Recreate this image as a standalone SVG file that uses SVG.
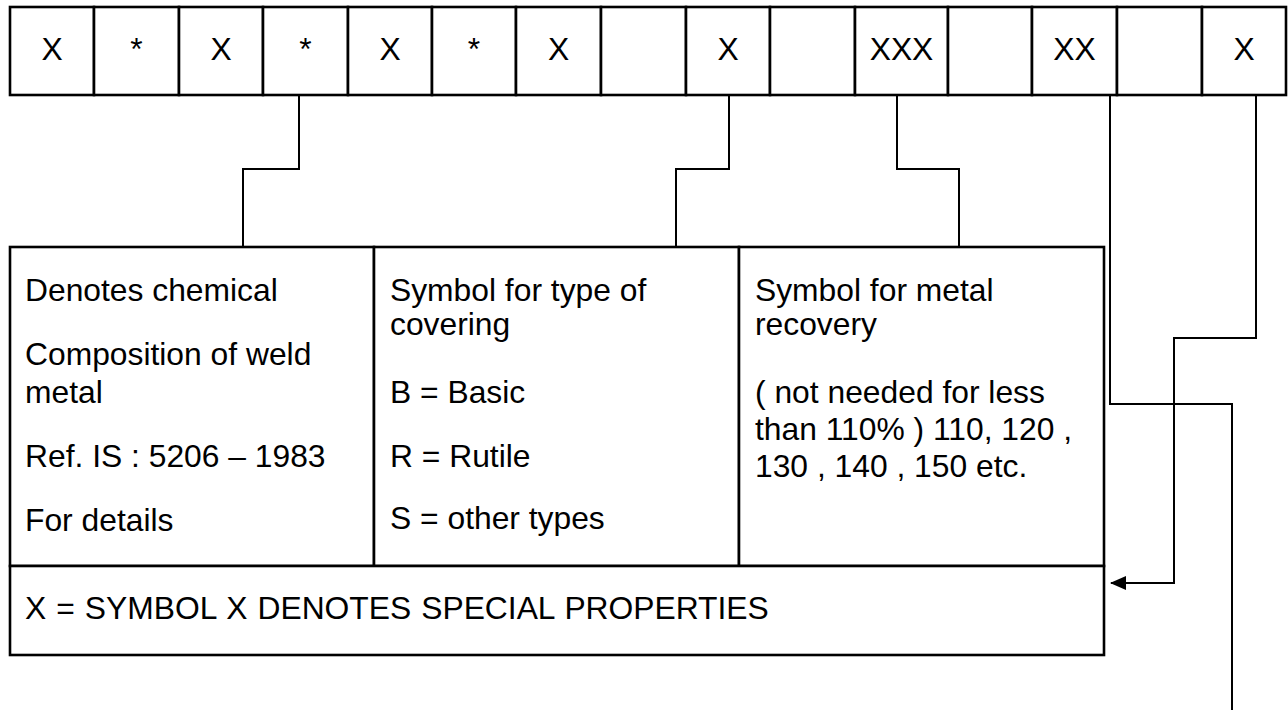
<svg xmlns="http://www.w3.org/2000/svg" width="1288" height="710" viewBox="0 0 1288 710">
<style>
  .cell { fill: #ffffff; stroke: #000000; stroke-width: 2.6; }
  .box { fill: #ffffff; stroke: #000000; stroke-width: 2.6; }
  .sym { font-family: "Liberation Sans", Arial, sans-serif; font-size: 31.8px; fill: #000000; text-anchor: middle; }
  .txt { font-family: "Liberation Sans", Arial, sans-serif; font-size: 31.8px; fill: #000000; }
  .conn { fill: none; stroke: #000000; stroke-width: 2; }
</style>
<defs>
  <marker id="arrow" viewBox="0 0 16 14" refX="15" refY="7" markerWidth="16" markerHeight="14" markerUnits="userSpaceOnUse" orient="auto">
    <path d="M0,0 L16,7 L0,14 z" fill="#000000"/>
  </marker>
</defs>
<rect width="1288" height="710" fill="#ffffff"/>

<g id="code-row">
  <g id="c1"><rect class="cell" x="10" y="7" width="84" height="88"/><text class="sym" x="52" y="60">X</text></g>
  <g id="c2"><rect class="cell" x="94" y="7" width="85" height="88"/><text class="sym" x="136.5" y="60">*</text></g>
  <g id="c3"><rect class="cell" x="179" y="7" width="84" height="88"/><text class="sym" x="221" y="60">X</text></g>
  <g id="c4"><rect class="cell" x="263" y="7" width="85" height="88"/><text class="sym" x="305.5" y="60">*</text></g>
  <g id="c5"><rect class="cell" x="348" y="7" width="84" height="88"/><text class="sym" x="390" y="60">X</text></g>
  <g id="c6"><rect class="cell" x="432" y="7" width="84" height="88"/><text class="sym" x="474" y="60">*</text></g>
  <g id="c7"><rect class="cell" x="516" y="7" width="85" height="88"/><text class="sym" x="558.5" y="60">X</text></g>
  <g id="c8"><rect class="cell" x="601" y="7" width="85" height="88"/></g>
  <g id="c9"><rect class="cell" x="686" y="7" width="84" height="88"/><text class="sym" x="728" y="60">X</text></g>
  <g id="c10"><rect class="cell" x="770" y="7" width="85" height="88"/></g>
  <g id="c11"><rect class="cell" x="855" y="7" width="93" height="88"/><text class="sym" x="901.5" y="60">XXX</text></g>
  <g id="c12"><rect class="cell" x="948" y="7" width="84" height="88"/></g>
  <g id="c13"><rect class="cell" x="1032" y="7" width="85" height="88"/><text class="sym" x="1074.5" y="60">XX</text></g>
  <g id="c14"><rect class="cell" x="1117" y="7" width="85" height="88"/></g>
  <g id="c15"><rect class="cell" x="1202" y="7" width="84" height="88"/><text class="sym" x="1244" y="60">X</text></g>
</g>

<g id="chemical">
  <rect class="box" x="10" y="247" width="364" height="319"/>
  <text class="txt" x="25" y="301">Denotes chemical</text>
  <text class="txt" x="25" y="365">Composition of weld</text>
  <text class="txt" x="25" y="402.5">metal</text>
  <text class="txt" x="25" y="467">Ref. IS : 5206 – 1983</text>
  <text class="txt" x="25" y="530.5">For details</text>
</g>

<g id="covering">
  <rect class="box" x="374" y="247" width="365" height="319"/>
  <text class="txt" x="390" y="300.5">Symbol for type of</text>
  <text class="txt" x="390" y="335">covering</text>
  <text class="txt" x="390" y="402.5">B = Basic</text>
  <text class="txt" x="390" y="466.7">R = Rutile</text>
  <text class="txt" x="390" y="529">S = other types</text>
</g>

<g id="recovery">
  <rect class="box" x="739" y="247" width="365" height="319"/>
  <text class="txt" x="755" y="300.5">Symbol for metal</text>
  <text class="txt" x="755" y="335">recovery</text>
  <text class="txt" x="755" y="402.5">( not needed for less</text>
  <text class="txt" x="755" y="439.5">than 110% ) 110, 120 ,</text>
  <text class="txt" x="755" y="476.5">130 , 140 , 150 etc.</text>
</g>

<g id="special">
  <rect class="box" x="10" y="566" width="1094" height="89"/>
  <text class="txt" x="25" y="619" word-spacing="1.2">X = SYMBOL X DENOTES SPECIAL PROPERTIES</text>
</g>

<g id="connectors">
  <path class="conn" d="M299,95 V169 H243 V247"/>
  <path class="conn" d="M729,95 V169 H676 V247"/>
  <path class="conn" d="M897,95 V169 H959 V247"/>
  <path class="conn" d="M1110,95 V404 H1232 V710"/>
  <path class="conn" d="M1256,95 V338 H1174 V583 H1111" marker-end="url(#arrow)"/>
</g>
</svg>
